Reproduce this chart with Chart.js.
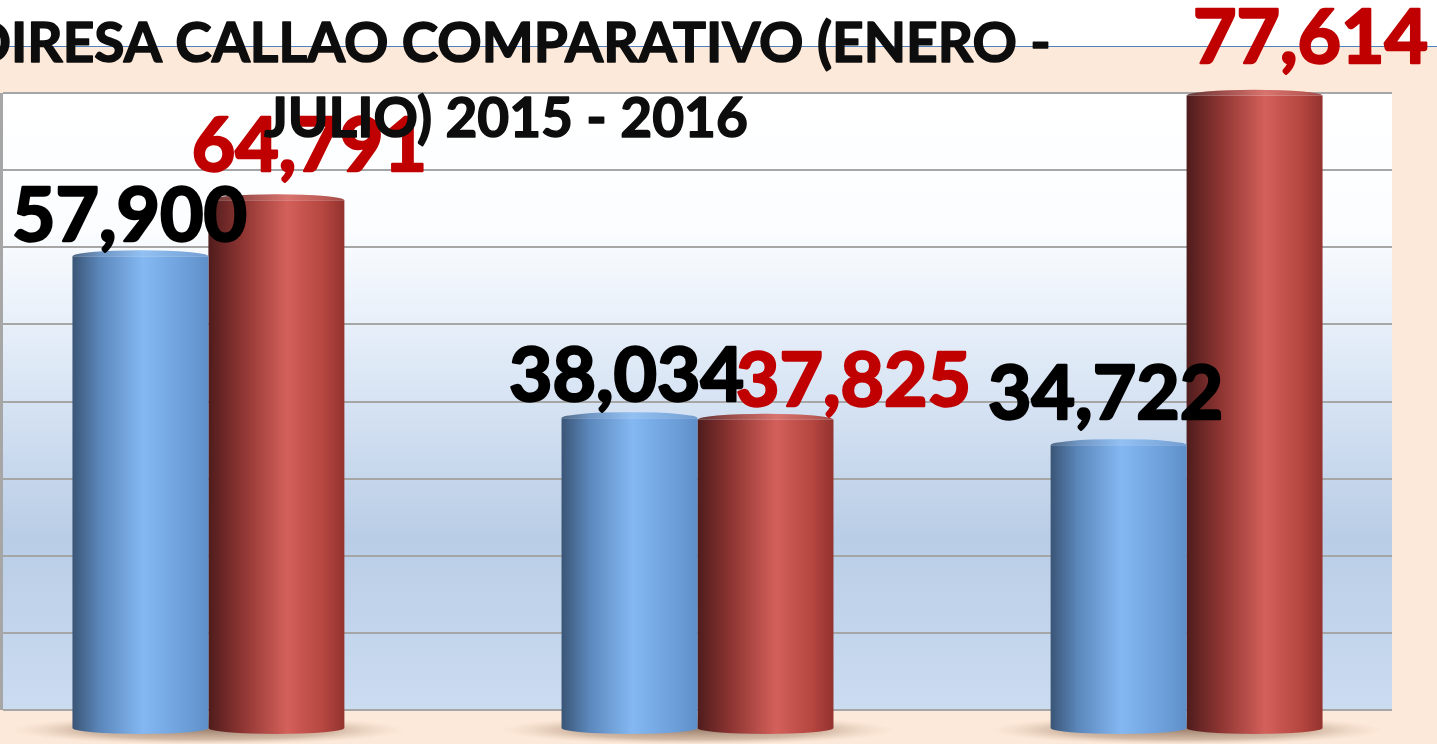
<!DOCTYPE html>
<html lang="es">
<head>
<meta charset="utf-8">
<title>DIRESA CALLAO COMPARATIVO</title>
<script src="https://cdn.jsdelivr.net/npm/chart.js@4.4.1/dist/chart.umd.min.js"></script>
<style>
  html, body { margin: 0; padding: 0; }
  body {
    width: 1437px; height: 744px; overflow: hidden;
    background: linear-gradient(to bottom, #ffffff 0px, #ffffff 46px, #4f81bd 46px, #4f81bd 47px, #fde9d9 47px, #fde9d9 100%);
  }
  #box { position: relative; width: 1437px; height: 744px; }
</style>
</head>
<body>
<div id="box"><canvas id="chart"></canvas></div>
<script>
// datos
const categories = ['Categoría 1', 'Categoría 2', 'Categoría 3'];
const years = ['2015', '2016'];
const values2015 = [57900, 38034, 34722];
const values2016 = [64791, 37825, 77614];
const wallTicks = [0, 10000, 20000, 30000, 40000, 50000, 60000, 70000, 80000];
const titleLines = ['DIRESA CALLAO COMPARATIVO (ENERO -', 'JULIO) 2015 - 2016'];

// the labels in the original were moved by hand, these nudges follow them (px)
const labelDx = [[-11, -3, -13], [33, 88, 56]];
const labelGap = [[15, 17, 26], [29, 14, 33]];
const labelColors = ['#000000', '#c00000'];

const barPct = 0.556;

const blueStops = [[0, '#3a5576'], [0.2, '#5b87bb'], [0.52, '#84b8f2'], [0.8, '#6fa2dc'], [1, '#5f8fc9']];
const redStops = [[0, '#4f1c1c'], [0.25, '#8e3532'], [0.58, '#d4605a'], [0.85, '#b4453f'], [1, '#93322e']];
const stops = [blueStops, redStops];

function sideGradient(ctx, left, width, st) {
  const g = ctx.createLinearGradient(left, 0, left + width, 0);
  st.forEach(s => g.addColorStop(s[0], s[1]));
  return g;
}

function barFill(c) {
  const st = stops[c.datasetIndex];
  const xs = c.chart.scales.x;
  if (!xs || c.dataIndex === undefined) return st[2][1];
  const step = xs.getPixelForValue(1) - xs.getPixelForValue(0);
  const w = step * barPct / 2;
  const center = xs.getPixelForValue(c.dataIndex);
  if (!isFinite(step) || !isFinite(center) || w <= 0) return st[2][1];
  const left = c.datasetIndex === 0 ? center - w : center;
  return sideGradient(c.chart.ctx, left, w, st);
}

function boldText(ctx, txt, x, y, color, extra) {
  ctx.fillStyle = color;
  ctx.strokeStyle = color;
  ctx.lineWidth = extra;
  ctx.lineJoin = 'round';
  ctx.strokeText(txt, x, y);
  ctx.fillText(txt, x, y);
}

const cylinderPlugin = {
  id: 'cylinders',
  beforeDraw(chart) {
    const { ctx, chartArea } = chart;
    const yw = chart.scales.yw;
    const top = yw.getPixelForValue(wallTicks[wallTicks.length - 1]);
    const bottom = yw.getPixelForValue(0);
    ctx.save();
    // back wall
    const g = ctx.createLinearGradient(0, top, 0, bottom);
    g.addColorStop(0, '#ffffff');
    g.addColorStop(0.22, '#fbfdff');
    g.addColorStop(0.45, '#dde8f6');
    g.addColorStop(0.72, '#b9cde6');
    g.addColorStop(1, '#cbdcf1');
    ctx.fillStyle = g;
    ctx.fillRect(chartArea.left, top, chartArea.right - chartArea.left, bottom - top);
    ctx.fillStyle = '#a6a6a6';
    ctx.fillRect(chartArea.left - 3, top, 3, bottom - top);

    // shadows on the floor
    const xs = chart.scales.x;
    const base = chart.scales.y.getPixelForValue(0);
    const step = xs.getPixelForValue(1) - xs.getPixelForValue(0);
    categories.forEach((_, i) => {
      const cx = xs.getPixelForValue(i);
      const r = step * 0.4;
      ctx.save();
      ctx.translate(cx, base + 2);
      ctx.scale(1, 0.075);
      const rg = ctx.createRadialGradient(0, 0, 0, 0, 0, r);
      rg.addColorStop(0, 'rgba(130,100,80,0.75)');
      rg.addColorStop(0.65, 'rgba(160,130,105,0.45)');
      rg.addColorStop(1, 'rgba(210,180,160,0)');
      ctx.fillStyle = rg;
      ctx.beginPath();
      ctx.arc(0, 0, r, 0, Math.PI * 2);
      ctx.fill();
      ctx.restore();
    });
    ctx.restore();
  },
  afterDatasetsDraw(chart) {
    const ctx = chart.ctx;
    ctx.save();
    chart.data.datasets.forEach((ds, di) => {
      const meta = chart.getDatasetMeta(di);
      meta.data.forEach(bar => {
        const { x, y, base, width } = bar.getProps(['x', 'y', 'base', 'width'], true);
        const left = x - width / 2;
        const ry = 6;
        ctx.fillStyle = sideGradient(ctx, left, width, stops[di]);
        ctx.beginPath();
        ctx.ellipse(x, base, width / 2, ry, 0, 0, Math.PI);
        ctx.fill();
        ctx.beginPath();
        ctx.ellipse(x, y, width / 2, ry, 0, Math.PI, Math.PI * 2);
        ctx.fill();
        ctx.fillStyle = 'rgba(255,255,255,0.12)';
        ctx.fill();
      });
    });
    ctx.restore();
  },
  afterDraw(chart) {
    const ctx = chart.ctx;
    ctx.save();
    ctx.textAlign = 'center';
    ctx.textBaseline = 'alphabetic';
    ctx.font = '700 75px Lato';
    chart.data.datasets.forEach((ds, di) => {
      const meta = chart.getDatasetMeta(di);
      meta.data.forEach((bar, i) => {
        const txt = ds.data[i].y.toLocaleString('en-US');
        boldText(ctx, txt, bar.x + labelDx[di][i], bar.y - labelGap[di][i], labelColors[di], 2.5);
      });
    });
    // title
    ctx.font = '700 55px Lato';
    boldText(ctx, titleLines[0], 510, 62, '#0d0d0d', 1.5);
    boldText(ctx, titleLines[1], 506, 137, '#0d0d0d', 1.5);
    ctx.restore();
  }
};

new Chart(document.getElementById('chart'), {
  type: 'bar',
  data: {
    labels: categories,
    datasets: [
      {
        label: years[0],
        data: values2015.map((v, i) => ({ x: i, y: v })),
        backgroundColor: barFill,
        borderWidth: 0,
        categoryPercentage: barPct,
        barPercentage: 1,
        clip: false
      },
      {
        label: years[1],
        data: values2016.map((v, i) => ({ x: i, y: v })),
        backgroundColor: barFill,
        borderWidth: 0,
        categoryPercentage: barPct,
        barPercentage: 1,
        clip: false
      }
    ]
  },
  options: {
    responsive: true,
    maintainAspectRatio: false,
    animation: false,
    layout: { padding: { top: 60, bottom: 16, left: 3, right: 45 } },
    plugins: {
      legend: { display: false },
      title: { display: false },
      tooltip: { enabled: false }
    },
    scales: {
      x: {
        type: 'linear', min: -0.42, max: 2.42, offset: false, display: false,
        afterBuildTicks: axis => { axis.ticks = categories.map((_, i) => ({ value: i })); }
      },
      y: { min: 0, max: 82000, display: false },
      yw: {
        type: 'linear',
        position: 'left',
        min: -2334,
        max: 84279,
        ticks: { display: false },
        border: { display: false },
        grid: { color: '#a6a6a6', lineWidth: 2, drawTicks: false },
        afterBuildTicks: axis => { axis.ticks = wallTicks.map(v => ({ value: v })); }
      }
    }
  },
  plugins: [cylinderPlugin]
});
</script>
</body>
</html>
